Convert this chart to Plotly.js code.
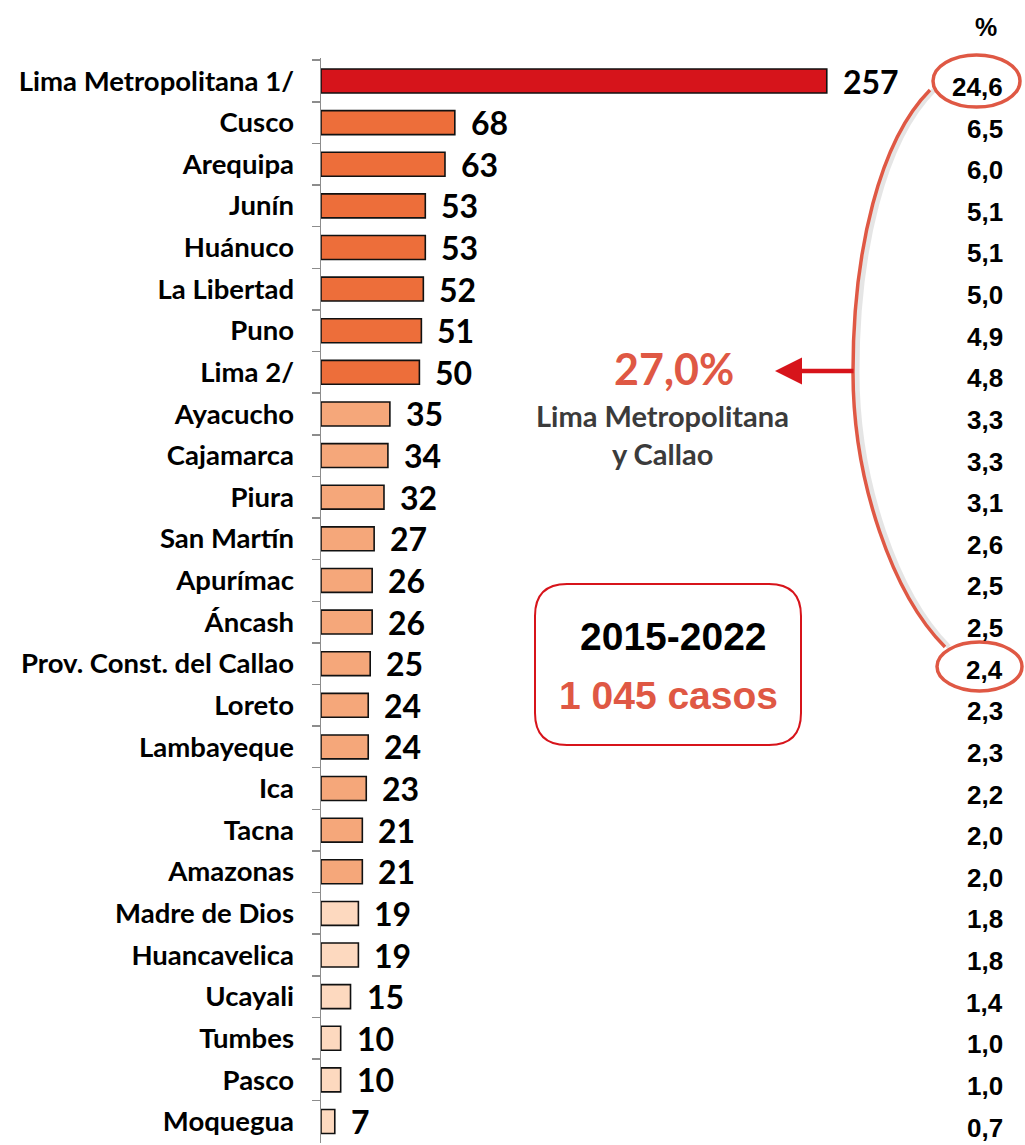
<!DOCTYPE html>
<html>
<head>
<meta charset="utf-8">
<script src="https://cdn.plot.ly/plotly-3.0.1.min.js"></script>
<style>html,body{margin:0;padding:0;background:#fff;}#chart{width:1025px;height:1145px;}</style>
</head>
<body>
<div id="chart"></div>
<script>
// ---- data ----
const regions = ["Lima Metropolitana 1/","Cusco","Arequipa","Junín","Huánuco","La Libertad","Puno","Lima 2/",
  "Ayacucho","Cajamarca","Piura","San Martín","Apurímac","Áncash","Prov. Const. del Callao","Loreto",
  "Lambayeque","Ica","Tacna","Amazonas","Madre de Dios","Huancavelica","Ucayali","Tumbes","Pasco","Moquegua"];
const cases = [257,68,63,53,53,52,51,50,35,34,32,27,26,26,25,24,24,23,21,21,19,19,15,10,10,7];
const percents = [24.6,6.5,6.0,5.1,5.1,5.0,4.9,4.8,3.3,3.3,3.1,2.6,2.5,2.5,2.4,2.3,2.3,2.2,2.0,2.0,1.8,1.8,1.4,1.0,1.0,0.7];
const periodLabel = "2015-2022";
const totalLabel = "1 045 casos";
const calloutPct = "27,0%";
const calloutText = ["Lima Metropolitana","y Callao"];

// ---- styling ----
const W = 1025, H = 1145;
const L = 321, R = 1, T = 58, B = 2;
const plotW = W - L - R, plotH = H - T - B;
const px = x => (x - L) / plotW;
const py = y => (H - B - y) / plotH;
const accent = '#df5844';
const narrow = '"Liberation Sans Narrow", "Arial Narrow", "Liberation Sans", Arial, sans-serif';
function barColor(i){
  if (i === 0) return '#d6141b';
  if (i <= 7) return '#ed6e3a';
  if (i <= 19) return '#f5a77a';
  return '#fdd9bf';
}
const fmt = v => v.toFixed(1).replace('.', ',');

const trace = {
  type: 'bar', orientation: 'h',
  x: cases, y: regions,
  width: 0.575,
  marker: {color: regions.map((_, i) => barColor(i)), line: {color: '#111', width: 1.6}},
  hoverinfo: 'skip'
};

const annotations = [];
regions.forEach((r, i) => {
  annotations.push({x: cases[i], y: r, xref: 'x', yref: 'y', text: String(cases[i]), showarrow: false,
    xanchor: 'left', yanchor: 'middle', xshift: 14, font: {family: 'Lato, sans-serif', size: 32, color: '#000', weight: 'bold'}});
  annotations.push({x: px(1005), y: r, xref: 'paper', yref: 'y', text: fmt(percents[i]), showarrow: false,
    xanchor: 'right', yanchor: 'middle', yshift: -6,
    font: {family: narrow, size: 26, color: '#000', weight: 'bold'}});
});
function label(x, y, text, font){
  annotations.push({x: px(x), y: py(y), xref: 'paper', yref: 'paper', text: text, showarrow: false,
    xanchor: 'center', yanchor: 'middle', font: font});
}
label(986, 27, '%', {family: '"Liberation Sans", Arial, sans-serif', size: 25, color: '#000', weight: 'bold'});
label(674, 368, calloutPct, {family: 'Lato, sans-serif', size: 43, color: accent, weight: 'bold'});
label(662, 416, calloutText[0], {family: 'Lato, sans-serif', size: 29, color: '#3b3b3b', weight: 'bold'});
label(662, 453, calloutText[1], {family: 'Lato, sans-serif', size: 29, color: '#3b3b3b', weight: 'bold'});
label(673, 636, periodLabel, {family: narrow, size: 39, color: '#000', weight: 'bold'});
label(668, 695, totalLabel, {family: narrow, size: 39, color: accent, weight: 'bold'});
// arrow
annotations.push({x: px(775), y: py(371), xref: 'paper', yref: 'paper', text: '', showarrow: true,
  ax: 80, ay: 0, arrowhead: 2, arrowsize: 1.2, arrowwidth: 4.5, arrowcolor: '#d7141b', standoff: 0});

// shapes
function P(x, y){ return px(x).toFixed(5) + ',' + py(y).toFixed(5); }
function roundedBox(x0, y0, x1, y1, r){
  return 'M' + P(x0 + r, y0) + ' L' + P(x1 - r, y0) + ' Q' + P(x1, y0) + ' ' + P(x1, y0 + r) +
    ' L' + P(x1, y1 - r) + ' Q' + P(x1, y1) + ' ' + P(x1 - r, y1) +
    ' L' + P(x0 + r, y1) + ' Q' + P(x0, y1) + ' ' + P(x0, y1 - r) +
    ' L' + P(x0, y0 + r) + ' Q' + P(x0, y0) + ' ' + P(x0 + r, y0) + ' Z';
}
function curve(dx){
  return 'M' + P(930 + dx, 90) + ' C' + P(880 + dx, 140) + ' ' + P(853 + dx, 250) + ' ' + P(853 + dx, 372) +
    ' C' + P(853 + dx, 482) + ' ' + P(893 + dx, 595) + ' ' + P(945 + dx, 647);
}
const shapes = [
  {type: 'path', xref: 'paper', yref: 'paper', path: curve(4), line: {color: 'rgba(0,0,0,0.10)', width: 5}},
  {type: 'path', xref: 'paper', yref: 'paper', path: curve(0), line: {color: accent, width: 3.5}},
  {type: 'circle', xref: 'paper', yref: 'paper', x0: px(933), x1: px(1020), y0: py(55), y1: py(107), line: {color: accent, width: 3.5}},
  {type: 'circle', xref: 'paper', yref: 'paper', x0: px(937), x1: px(1022), y0: py(642), y1: py(691), line: {color: accent, width: 3.5}},
  {type: 'path', xref: 'paper', yref: 'paper', path: roundedBox(535, 584, 801, 745, 32), line: {color: '#d7141b', width: 2}, fillcolor: 'rgba(0,0,0,0)'}
];

const layout = {
  width: W, height: H,
  margin: {l: L, r: R, t: T, b: B, pad: 0},
  paper_bgcolor: '#fff', plot_bgcolor: '#fff',
  showlegend: false,
  xaxis: {range: [0, plotW / 1.968], visible: false, fixedrange: true},
  yaxis: {type: 'category', autorange: 'reversed', showline: true, linecolor: '#8c8c8c', linewidth: 1.5,
    ticks: 'outside', tickson: 'boundaries', ticklen: 8, tickcolor: '#8c8c8c', tickwidth: 1.5,
    showgrid: false, zeroline: false, ticklabelstandoff: 20,
    tickfont: {family: 'Lato, sans-serif', size: 27.5, color: '#000', weight: 'bold'}},
  annotations: annotations,
  shapes: shapes
};

Plotly.newPlot('chart', [trace], layout, {staticPlot: true, displayModeBar: false});
</script>
</body>
</html>
